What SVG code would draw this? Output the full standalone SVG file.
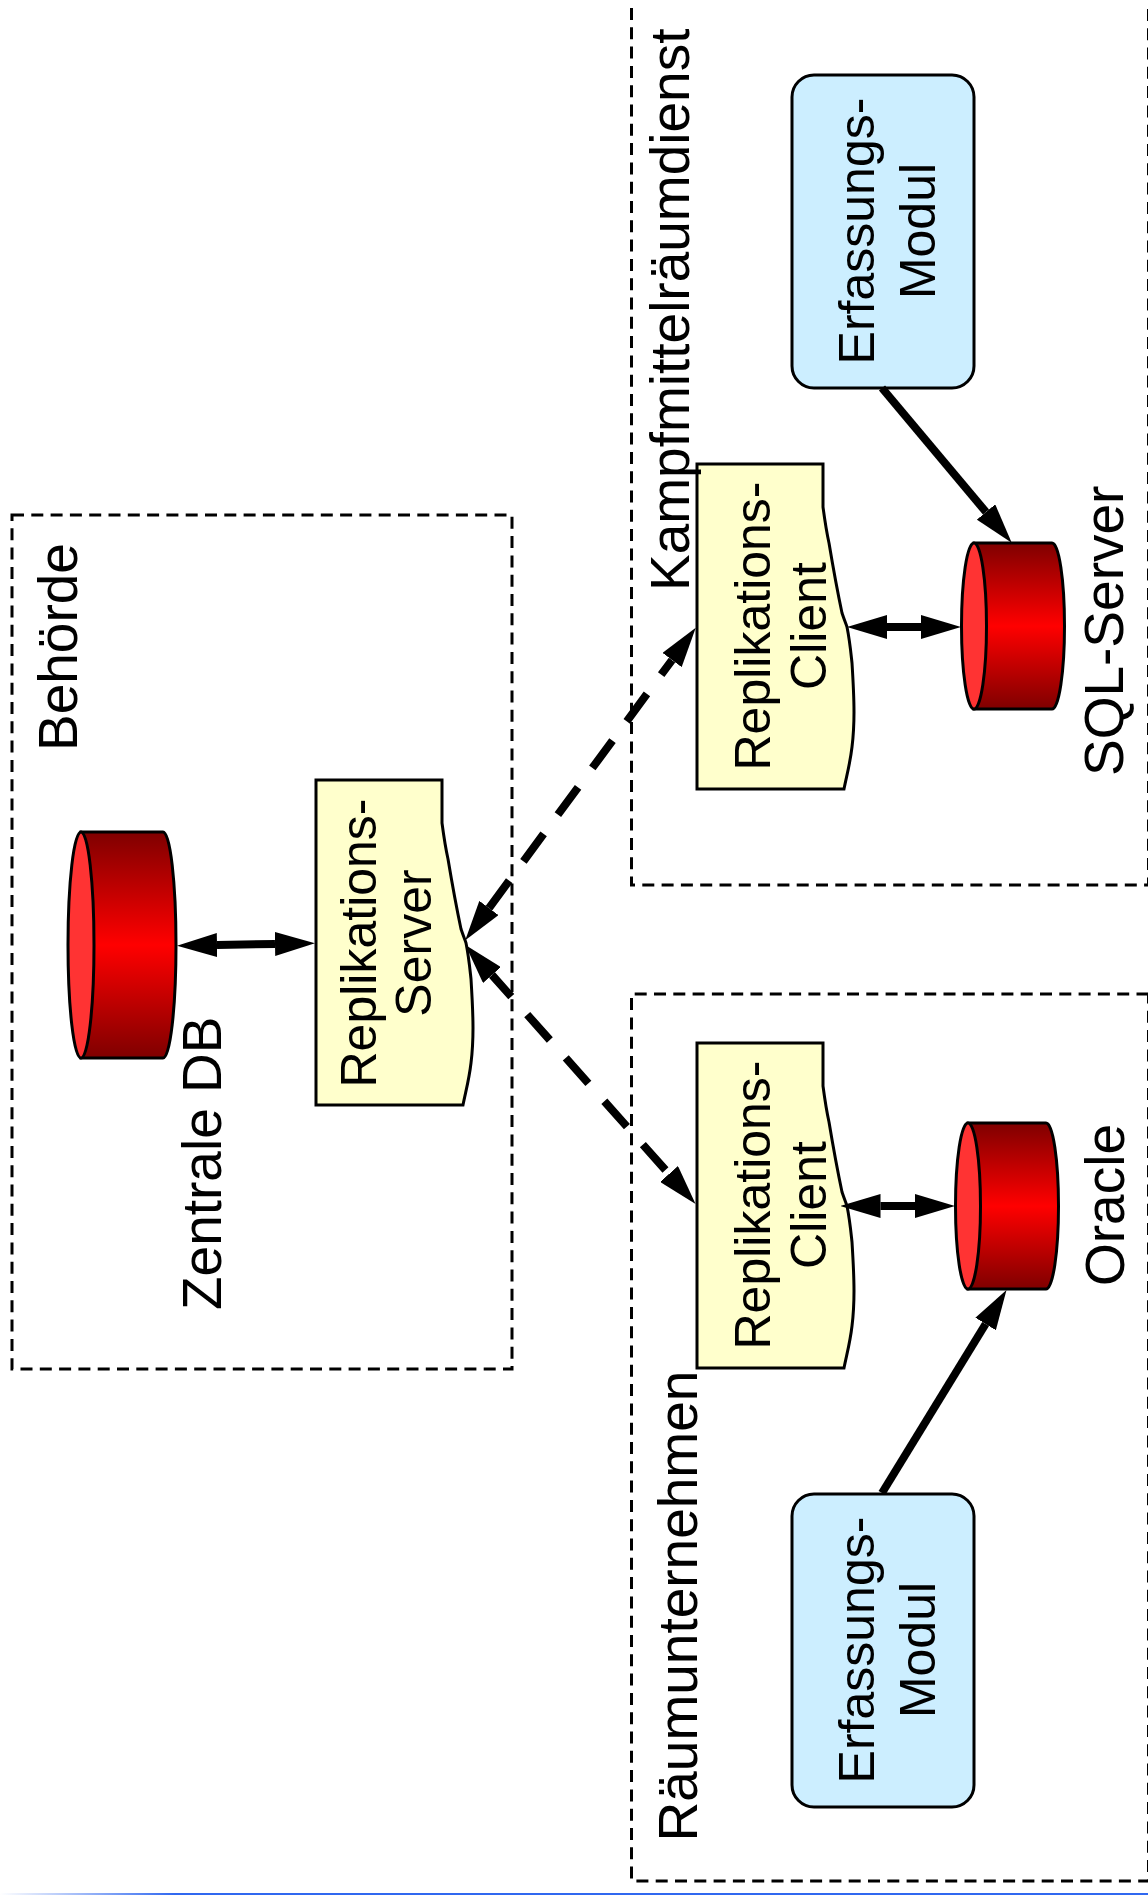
<svg xmlns="http://www.w3.org/2000/svg" width="1148" height="1895" viewBox="0 0 1148 1895">
<style>
.g{fill:none;stroke:#000;stroke-width:3;stroke-dasharray:12 7.300}
.t{font-family:"Liberation Sans",Arial,sans-serif;fill:#000}
.l{font-size:55px}
.i{font-size:50px;text-anchor:middle}
.d{fill:#ffc;stroke:#000;stroke-width:3}
.e{fill:#cef;stroke:#000;stroke-width:3}
.c{fill:url(#cg);stroke:#000;stroke-width:3}
.ce{fill:#f33;stroke:#000;stroke-width:3}
.a{fill:none;stroke:#000;stroke-width:8}
.ds{stroke-dasharray:34 24}
</style>
<defs>
<linearGradient id="cg" x1="0" y1="0" x2="0" y2="1"><stop offset="0" stop-color="#7f0000"/><stop offset=".5" stop-color="#f00"/><stop offset="1" stop-color="#7f0000"/></linearGradient>
<linearGradient id="bl" x1="0" y1="0" x2="1" y2="0"><stop offset="0" stop-color="#fff"/><stop offset="1" stop-color="#3068f0"/></linearGradient>
<marker id="h" viewBox="0 0 40 24" refX="0" refY="12" markerWidth="40" markerHeight="24" markerUnits="userSpaceOnUse" orient="auto-start-reverse"><path d="M0 0L40 12L0 24Z" fill="#000"/></marker>
<path id="doc" d="M0 0H126V43C128 58 130 70 132 79C136 103 141 130 145 149C147 155 149 160 150 163C153 178 154 190 155 199C156 215 157 235 157 248C157 262 156 275 155 283C153 300 150 310 147 325H0Z"/>
</defs>
<rect x="0" y="1893" width="1148" height="2" fill="#3068f0"/>
<rect x="0" y="1893" width="175" height="2" fill="url(#bl)"/>
<g id="db-zentrale"><path class="c" d="M81 832H163A13 113 0 0 1 163 1058H81Z"/><ellipse class="ce" cx="81" cy="945" rx="13" ry="113"/><text class="t l" transform="translate(221 1310) rotate(-90)">Zentrale DB</text></g>
<g id="repl-server"><use href="#doc" class="d" x="316" y="780"/><text class="t i" transform="translate(376 943) rotate(-90)">Replikations-</text><text class="t i" transform="translate(431 943) rotate(-90)">Server</text></g>
<g id="repl-client-1"><use href="#doc" class="d" x="697" y="464"/><text class="t i" transform="translate(770 626) rotate(-90)">Replikations-</text><text class="t i" transform="translate(826 626) rotate(-90)">Client</text></g>
<g id="repl-client-2"><use href="#doc" class="d" x="697" y="1043"/><text class="t i" transform="translate(770 1205) rotate(-90)">Replikations-</text><text class="t i" transform="translate(826 1205) rotate(-90)">Client</text></g>
<g id="db-sql"><path class="c" d="M974 543H1052A12.500 83 0 0 1 1052 709H974Z"/><ellipse class="ce" cx="974" cy="626" rx="12.500" ry="83"/><text class="t l" transform="translate(1123 776) rotate(-90)">SQL-Server</text></g>
<g id="db-oracle"><path class="c" d="M968 1123H1046A12.500 83 0 0 1 1046 1289H968Z"/><ellipse class="ce" cx="968" cy="1206" rx="12.500" ry="83"/><text class="t l" transform="translate(1124 1286) rotate(-90)">Oracle</text></g>
<g id="erfassung-1"><rect class="e" x="792" y="75" width="182" height="313" rx="22" ry="22"/><text class="t i" transform="translate(874 231) rotate(-90)">Erfassungs-</text><text class="t i" transform="translate(935 231) rotate(-90)">Modul</text></g>
<g id="erfassung-2"><rect class="e" x="792" y="1494" width="182" height="313" rx="22" ry="22"/><text class="t i" transform="translate(874 1650) rotate(-90)">Erfassungs-</text><text class="t i" transform="translate(935 1650) rotate(-90)">Modul</text></g>
<g id="connectors">
<path class="a" d="M217 945L275 944" marker-start="url(#h)" marker-end="url(#h)"/>
<path class="a" d="M887 627H921" marker-start="url(#h)" marker-end="url(#h)"/>
<path class="a" d="M880.500 1206H915" marker-start="url(#h)" marker-end="url(#h)"/>
<path class="a" d="M882 388L986 512" marker-end="url(#h)"/>
<path class="a" d="M882 1493L985.600 1324" marker-end="url(#h)"/>
<path class="a ds" d="M489 908L672 660" marker-start="url(#h)" marker-end="url(#h)"/>
<path class="a ds" d="M492 975L669 1174" marker-start="url(#h)" marker-end="url(#h)" stroke-dashoffset="5"/>
</g>
<g id="group-behoerde"><rect class="g" x="12" y="515" width="500" height="854"/><text class="t l" transform="translate(77 751) rotate(-90)">Behörde</text></g>
<g id="group-kampf"><path class="g" d="M631.500 8V885H1148.500V8"/><text class="t l" transform="translate(689 591) rotate(-90)">Kampfmittelräumdienst</text></g>
<g id="group-raeum"><path class="g" d="M1148.500 994H631.500V1881H1148.500V994"/><text class="t l" transform="translate(697 1841.500) rotate(-90)">Räumunternehmen</text></g>
</svg>
